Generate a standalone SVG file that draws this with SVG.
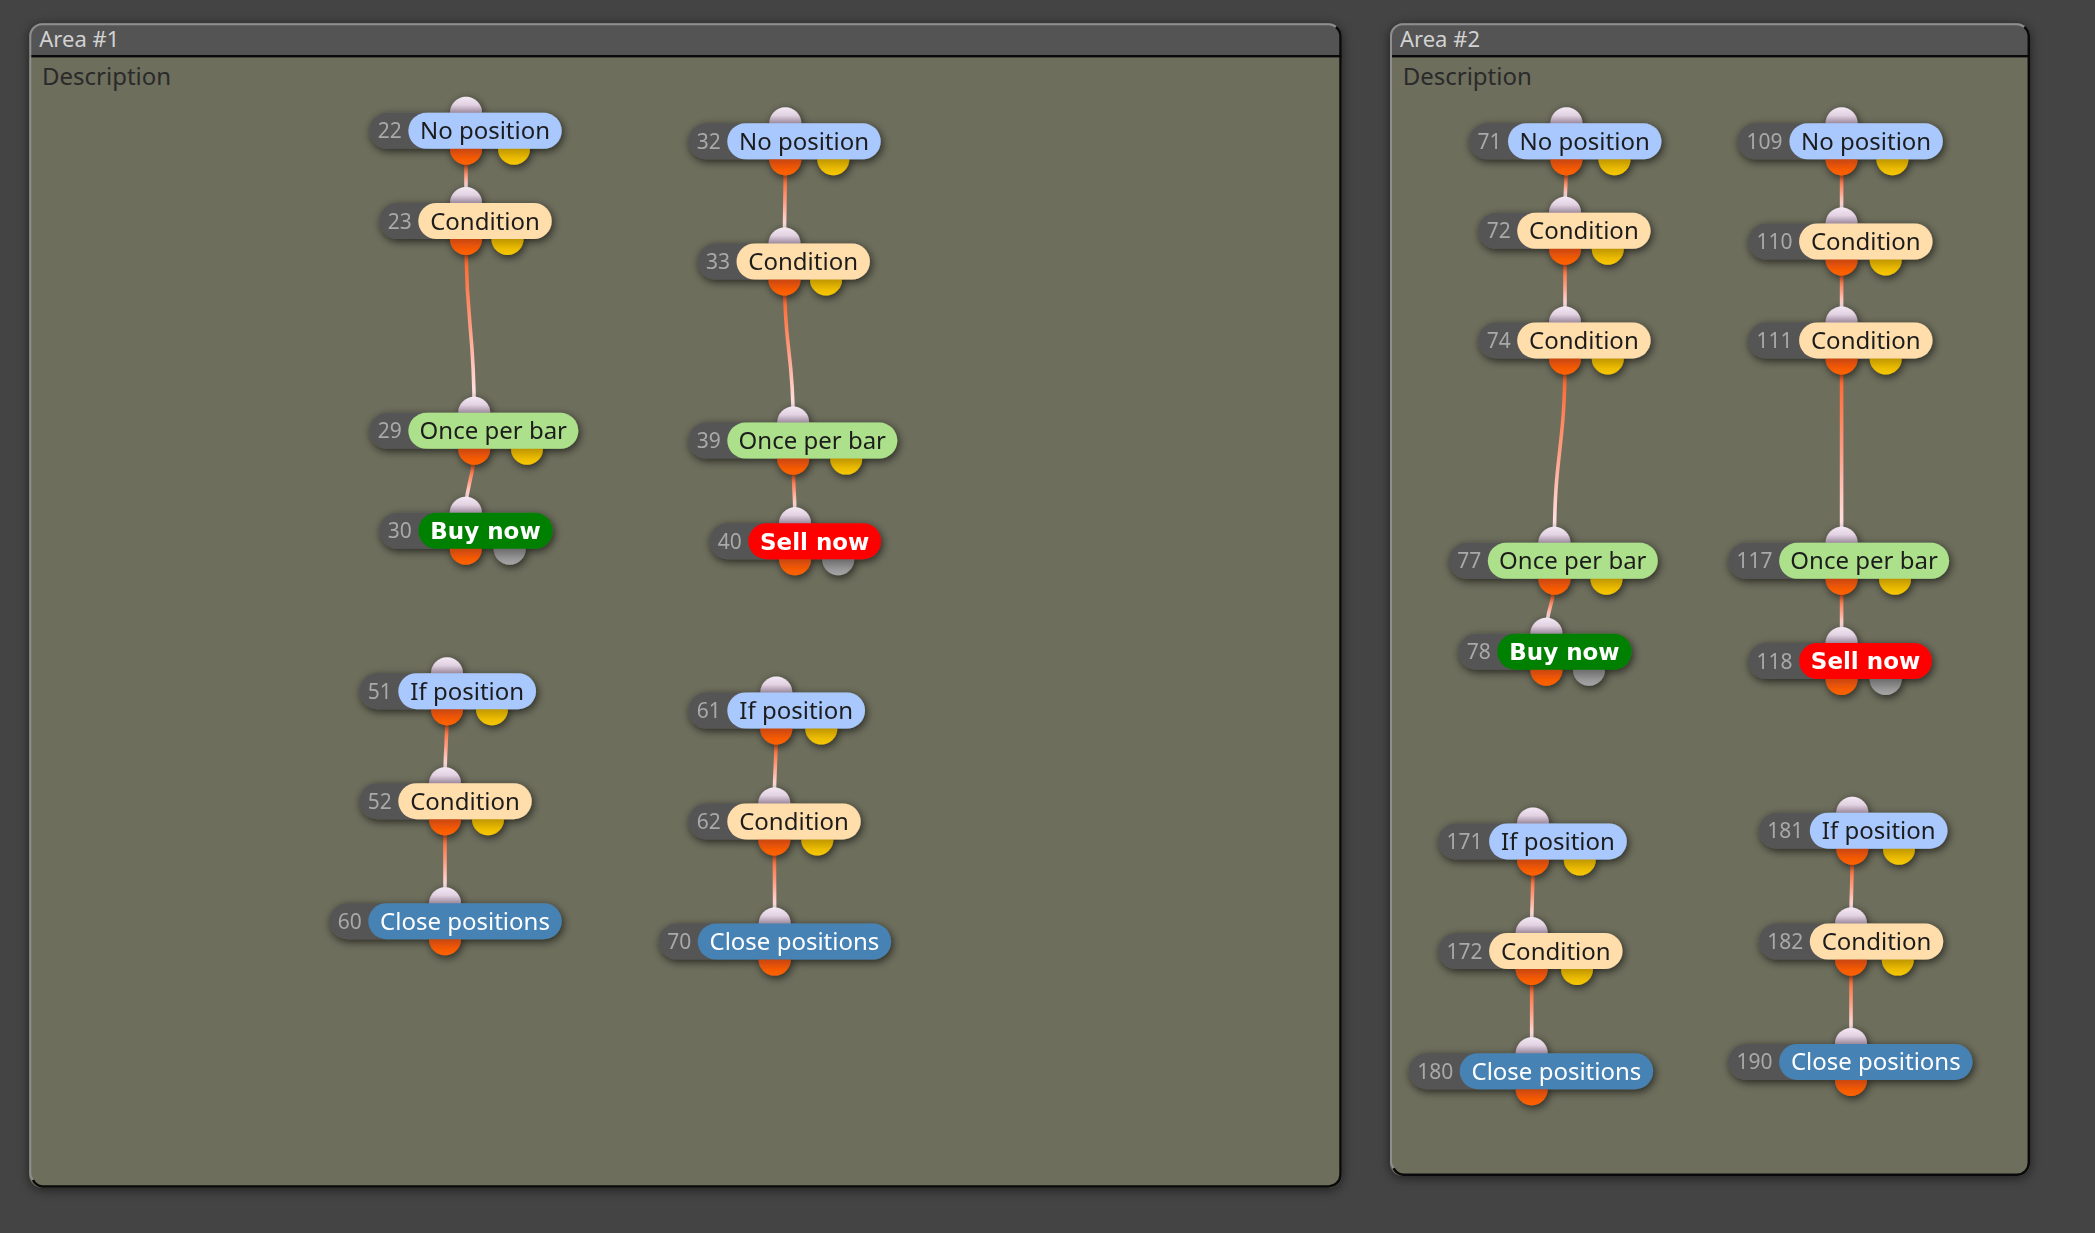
<svg xmlns="http://www.w3.org/2000/svg" width="2095" height="1233" viewBox="0 0 2095 1233">
<style>
.bg{fill:#444444}
.body{fill:#6d6e5c}
.tbar{fill:#545454}
.edgeL{fill:none;stroke:#8e8e8e;stroke-width:2}
.edgeD{fill:none;stroke:#0a0a0a;stroke-width:2.5}
.title{font-family:"Noto Sans",sans-serif;font-size:22px;fill:#d2d2d2}
.desc{font-family:"Noto Sans",sans-serif;font-size:24px;fill:#2a2a2a}
.num{fill:#555555}
.nt{font-family:"Noto Sans",sans-serif;font-size:21px;fill:#a9a9a9;text-anchor:middle}
.lt{font-family:"Noto Sans",sans-serif;font-size:24px;fill:#1d1d1d;text-anchor:middle}
.lw{fill:#ffffff}
.lbold{font-family:"DejaVu Sans",sans-serif;font-weight:bold;font-size:23px;fill:#ffffff;text-anchor:middle}
.cNo{fill:#a9c8fd}
.cCond{fill:#ffdeab}
.cOnce{fill:#ade08a}
.cBuy{fill:#008000}
.cSell{fill:#ff0000}
.cClose{fill:#4682b4}
.pin{fill:url(#gin)}
.pout{fill:url(#gout)}
.py{fill:url(#gy)}
.pg{fill:url(#gg)}
.conn path{fill:none;stroke-width:3.6;stroke-linecap:round}
</style>
<defs>
<filter id="sh" x="-30%" y="-60%" width="160%" height="220%">
<feDropShadow dx="1.5" dy="2.5" stdDeviation="4" flood-color="#000" flood-opacity="0.65"/>
</filter>
<filter id="ash" x="-5%" y="-5%" width="110%" height="110%">
<feDropShadow dx="0" dy="2" stdDeviation="6" flood-color="#000" flood-opacity="0.55"/>
</filter>
<linearGradient id="gin" x1="0" y1="0" x2="0" y2="1">
<stop offset="0" stop-color="#f4e8f4"/><stop offset="0.25" stop-color="#e2d2e2"/><stop offset="0.5" stop-color="#9c8a9c"/><stop offset="1" stop-color="#9c8a9c"/>
</linearGradient>
<linearGradient id="gout" x1="0" y1="0" x2="0" y2="1">
<stop offset="0" stop-color="#b83c10"/><stop offset="0.5" stop-color="#c8460e"/><stop offset="0.8" stop-color="#f45a04"/><stop offset="1" stop-color="#ff6200"/>
</linearGradient>
<linearGradient id="gy" x1="0" y1="0" x2="0" y2="1">
<stop offset="0" stop-color="#b08a00"/><stop offset="0.5" stop-color="#bf9600"/><stop offset="0.8" stop-color="#ebbb00"/><stop offset="1" stop-color="#f7c800"/>
</linearGradient>
<linearGradient id="gg" x1="0" y1="0" x2="0" y2="1">
<stop offset="0" stop-color="#606060"/><stop offset="0.5" stop-color="#6c6c6c"/><stop offset="0.8" stop-color="#959595"/><stop offset="1" stop-color="#a6a6a6"/>
</linearGradient>
<linearGradient id="cg"><stop offset="0" stop-color="#ff6428"/><stop offset="0.5" stop-color="#ff9c82"/><stop offset="1" stop-color="#ffe6ea"/></linearGradient>
<linearGradient id="k1" href="#cg" gradientUnits="userSpaceOnUse" x1="0" y1="164.8" x2="0" y2="187"/>
<linearGradient id="k2" href="#cg" gradientUnits="userSpaceOnUse" x1="0" y1="255" x2="0" y2="396.8"/>
<linearGradient id="k3" href="#cg" gradientUnits="userSpaceOnUse" x1="0" y1="464.8" x2="0" y2="496.8"/>
<linearGradient id="k4" href="#cg" gradientUnits="userSpaceOnUse" x1="0" y1="175.3" x2="0" y2="227.5"/>
<linearGradient id="k5" href="#cg" gradientUnits="userSpaceOnUse" x1="0" y1="295.5" x2="0" y2="406.6"/>
<linearGradient id="k6" href="#cg" gradientUnits="userSpaceOnUse" x1="0" y1="474.6" x2="0" y2="507.2"/>
<linearGradient id="k7" href="#cg" gradientUnits="userSpaceOnUse" x1="0" y1="725.2" x2="0" y2="767.2"/>
<linearGradient id="k8" href="#cg" gradientUnits="userSpaceOnUse" x1="0" y1="835.2" x2="0" y2="887.2"/>
<linearGradient id="k9" href="#cg" gradientUnits="userSpaceOnUse" x1="0" y1="744.5" x2="0" y2="787.4"/>
<linearGradient id="k10" href="#cg" gradientUnits="userSpaceOnUse" x1="0" y1="855.4" x2="0" y2="907.6"/>
<linearGradient id="k11" href="#cg" gradientUnits="userSpaceOnUse" x1="0" y1="175.3" x2="0" y2="196.8"/>
<linearGradient id="k12" href="#cg" gradientUnits="userSpaceOnUse" x1="0" y1="264.8" x2="0" y2="306.4"/>
<linearGradient id="k13" href="#cg" gradientUnits="userSpaceOnUse" x1="0" y1="374.4" x2="0" y2="526.8"/>
<linearGradient id="k14" href="#cg" gradientUnits="userSpaceOnUse" x1="0" y1="594.8" x2="0" y2="617.7"/>
<linearGradient id="k15" href="#cg" gradientUnits="userSpaceOnUse" x1="0" y1="175.3" x2="0" y2="207.5"/>
<linearGradient id="k16" href="#cg" gradientUnits="userSpaceOnUse" x1="0" y1="275.5" x2="0" y2="306.4"/>
<linearGradient id="k17" href="#cg" gradientUnits="userSpaceOnUse" x1="0" y1="374.4" x2="0" y2="526.8"/>
<linearGradient id="k18" href="#cg" gradientUnits="userSpaceOnUse" x1="0" y1="594.8" x2="0" y2="627"/>
<linearGradient id="k19" href="#cg" gradientUnits="userSpaceOnUse" x1="0" y1="875.4" x2="0" y2="917"/>
<linearGradient id="k20" href="#cg" gradientUnits="userSpaceOnUse" x1="0" y1="985" x2="0" y2="1037.2"/>
<linearGradient id="k21" href="#cg" gradientUnits="userSpaceOnUse" x1="0" y1="864.7" x2="0" y2="907.6"/>
<linearGradient id="k22" href="#cg" gradientUnits="userSpaceOnUse" x1="0" y1="975.6" x2="0" y2="1027.9"/>
</defs>

<rect class="bg" x="0" y="0" width="2095" height="1233"/>

<g id="area1">
<rect class="body" x="29.3" y="23.3" width="1312.4" height="1164.4" rx="13" filter="url(#ash)"/>
<path class="tbar" d="M29.3,55.5 V36.3 A13,13 0 0 1 42.3,23.3 H1328.7 A13,13 0 0 1 1341.7,36.3 V55.5 Z"/>
<rect x="29.3" y="55" width="1312.4" height="2.4" fill="#0a0a0a"/>
<path class="edgeL" d="M33,1180 A13,13 0 0 1 30.3,1174.7 V36.3 A12,12 0 0 1 42.3,24.3 H1328.7 A12,12 0 0 1 1336,27"/>
<path class="edgeD" d="M1336,27 A12,12 0 0 1 1340.5,36.3 V1174.7 A12,12 0 0 1 1328.7,1186.5 H42.3 A12,12 0 0 1 33,1180"/>
<text class="title" x="39.3" y="46.7">Area #1</text>
<text class="desc" x="42" y="85">Description</text>
</g>

<g id="area2">
<rect class="body" x="1390" y="23.3" width="640" height="1152.7" rx="13" filter="url(#ash)"/>
<path class="tbar" d="M1390,55.5 V36.3 A13,13 0 0 1 1403,23.3 H2017 A13,13 0 0 1 2030,36.3 V55.5 Z"/>
<rect x="1390" y="55" width="640" height="2.4" fill="#0a0a0a"/>
<path class="edgeL" d="M1393.7,1168.3 A13,13 0 0 1 1391,1163 V36.3 A12,12 0 0 1 1403,24.3 H2017 A12,12 0 0 1 2024.3,27"/>
<path class="edgeD" d="M2024.3,27 A12,12 0 0 1 2028.8,36.3 V1163 A12,12 0 0 1 2017,1174.8 H1403 A12,12 0 0 1 1393.7,1168.3"/>
<text class="title" x="1400" y="46.7">Area #2</text>
<text class="desc" x="1402.7" y="85">Description</text>
</g>

<g id="connectors" class="conn">
<path d="M466,148.8 C466,175.9 466,175.9 466,203" stroke="url(#k1)"/>
<path d="M466,239 C466,325.9 474.2,325.9 474.2,412.8" stroke="url(#k2)"/>
<path d="M474.2,448.8 C474.2,480.8 465.8,480.8 465.8,512.8" stroke="url(#k3)"/>
<path d="M785.3,159.3 C785.3,201.4 784.5,201.4 784.5,243.5" stroke="url(#k4)"/>
<path d="M784.5,279.5 C784.5,351 793.2,351 793.2,422.6" stroke="url(#k5)"/>
<path d="M793.2,458.6 C793.2,490.9 795,490.9 795,523.2" stroke="url(#k6)"/>
<path d="M447,709.2 C447,746.2 445,746.2 445,783.2" stroke="url(#k7)"/>
<path d="M445,819.2 C445,861.2 445,861.2 445,903.2" stroke="url(#k8)"/>
<path d="M776.3,728.5 C776.3,766 774.3,766 774.3,803.4" stroke="url(#k9)"/>
<path d="M774.3,839.4 C774.3,881.5 774.7,881.5 774.7,923.6" stroke="url(#k10)"/>
<path d="M1566.4,159.3 C1566.4,186 1565,186 1565,212.8" stroke="url(#k11)"/>
<path d="M1565,248.8 C1565,285.6 1565,285.6 1565,322.4" stroke="url(#k12)"/>
<path d="M1565,358.4 C1565,450.6 1554.4,450.6 1554.4,542.8" stroke="url(#k13)"/>
<path d="M1554.4,578.8 C1554.4,606.2 1546.4,606.2 1546.4,633.7" stroke="url(#k14)"/>
<path d="M1841.6,159.3 C1841.6,191.4 1841.6,191.4 1841.6,223.5" stroke="url(#k15)"/>
<path d="M1841.6,259.5 C1841.6,291 1841.6,291 1841.6,322.4" stroke="url(#k16)"/>
<path d="M1841.6,358.4 C1841.6,450.6 1841.6,450.6 1841.6,542.8" stroke="url(#k17)"/>
<path d="M1841.6,578.8 C1841.6,610.9 1841.6,610.9 1841.6,643" stroke="url(#k18)"/>
<path d="M1533,859.4 C1533,896.2 1531.7,896.2 1531.7,933" stroke="url(#k19)"/>
<path d="M1531.7,969 C1531.7,1011.1 1531.7,1011.1 1531.7,1053.2" stroke="url(#k20)"/>
<path d="M1852.3,848.7 C1852.3,886.2 1851,886.2 1851,923.6" stroke="url(#k21)"/>
<path d="M1851,959.6 C1851,1001.8 1851,1001.8 1851,1043.9" stroke="url(#k22)"/>
</g>

<g id="n22" filter="url(#sh)">
<circle class="pin" cx="466" cy="112.8" r="16"/><circle class="pout" cx="466" cy="148.8" r="16"/><circle class="py" cx="514" cy="148.8" r="16"/>
<rect class="num" x="369.3" y="112.8" width="75" height="36" rx="18"/><text class="nt" x="389.8" y="138.3">22</text>
<rect class="cNo" x="408.3" y="112.8" width="153.4" height="36" rx="18"/><text class="lt" x="485" y="139.3">No position</text>
</g>
<g id="n23" filter="url(#sh)">
<circle class="pin" cx="466" cy="203" r="16"/><circle class="pout" cx="466" cy="239" r="16"/><circle class="py" cx="507.5" cy="239" r="16"/>
<rect class="num" x="379.3" y="203" width="75" height="36" rx="18"/><text class="nt" x="399.8" y="228.5">23</text>
<rect class="cCond" x="418.3" y="203" width="133.4" height="36" rx="18"/><text class="lt" x="485" y="229.5">Condition</text>
</g>
<g id="n29" filter="url(#sh)">
<circle class="pin" cx="474.2" cy="412.8" r="16"/><circle class="pout" cx="474.2" cy="448.8" r="16"/><circle class="py" cx="527" cy="448.8" r="16"/>
<rect class="num" x="369.3" y="412.8" width="75" height="36" rx="18"/><text class="nt" x="389.8" y="438.3">29</text>
<rect class="cOnce" x="408.3" y="412.8" width="170" height="36" rx="18"/><text class="lt" x="493.3" y="439.3">Once per bar</text>
</g>
<g id="n30" filter="url(#sh)">
<circle class="pin" cx="465.8" cy="512.8" r="16"/><circle class="pout" cx="465.8" cy="548.8" r="16"/><circle class="pg" cx="509.7" cy="548.8" r="16"/>
<rect class="num" x="379.3" y="512.8" width="75" height="36" rx="18"/><text class="nt" x="399.8" y="538.3">30</text>
<rect class="cBuy" x="418.3" y="512.8" width="134.4" height="36" rx="18"/><text class="lbold" x="485.5" y="539.2">Buy now</text>
</g>
<g id="n32" filter="url(#sh)">
<circle class="pin" cx="785.3" cy="123.3" r="16"/><circle class="pout" cx="785.3" cy="159.3" r="16"/><circle class="py" cx="833.3" cy="159.3" r="16"/>
<rect class="num" x="688.3" y="123.3" width="75" height="36" rx="18"/><text class="nt" x="708.8" y="148.8">32</text>
<rect class="cNo" x="727.3" y="123.3" width="153.4" height="36" rx="18"/><text class="lt" x="804" y="149.8">No position</text>
</g>
<g id="n33" filter="url(#sh)">
<circle class="pin" cx="784.5" cy="243.5" r="16"/><circle class="pout" cx="784.5" cy="279.5" r="16"/><circle class="py" cx="826" cy="279.5" r="16"/>
<rect class="num" x="697.5" y="243.5" width="75" height="36" rx="18"/><text class="nt" x="718" y="269">33</text>
<rect class="cCond" x="736.5" y="243.5" width="133.4" height="36" rx="18"/><text class="lt" x="803.2" y="270">Condition</text>
</g>
<g id="n39" filter="url(#sh)">
<circle class="pin" cx="793.2" cy="422.6" r="16"/><circle class="pout" cx="793.2" cy="458.6" r="16"/><circle class="py" cx="846.2" cy="458.6" r="16"/>
<rect class="num" x="688.3" y="422.6" width="75" height="36" rx="18"/><text class="nt" x="708.8" y="448.1">39</text>
<rect class="cOnce" x="727.3" y="422.6" width="170" height="36" rx="18"/><text class="lt" x="812.3" y="449.1">Once per bar</text>
</g>
<g id="n40" filter="url(#sh)">
<circle class="pin" cx="795" cy="523.2" r="16"/><circle class="pout" cx="795" cy="559.2" r="16"/><circle class="pg" cx="838.2" cy="559.2" r="16"/>
<rect class="num" x="709.3" y="523.2" width="75" height="36" rx="18"/><text class="nt" x="729.8" y="548.7">40</text>
<rect class="cSell" x="748.3" y="523.2" width="132.7" height="36" rx="18"/><text class="lbold" x="814.7" y="549.6">Sell now</text>
</g>
<g id="n51" filter="url(#sh)">
<circle class="pin" cx="447" cy="673.2" r="16"/><circle class="pout" cx="447" cy="709.2" r="16"/><circle class="py" cx="492" cy="709.2" r="16"/>
<rect class="num" x="359.3" y="673.2" width="75" height="36" rx="18"/><text class="nt" x="379.8" y="698.7">51</text>
<rect class="cNo" x="398.3" y="673.2" width="137.7" height="36" rx="18"/><text class="lt" x="467.2" y="699.7">If position</text>
</g>
<g id="n52" filter="url(#sh)">
<circle class="pin" cx="445" cy="783.2" r="16"/><circle class="pout" cx="445" cy="819.2" r="16"/><circle class="py" cx="488" cy="819.2" r="16"/>
<rect class="num" x="359.3" y="783.2" width="75" height="36" rx="18"/><text class="nt" x="379.8" y="808.7">52</text>
<rect class="cCond" x="398.3" y="783.2" width="133.4" height="36" rx="18"/><text class="lt" x="465" y="809.7">Condition</text>
</g>
<g id="n60" filter="url(#sh)">
<circle class="pin" cx="445" cy="903.2" r="16"/><circle class="pout" cx="445" cy="939.2" r="16"/>
<rect class="num" x="329.3" y="903.2" width="75" height="36" rx="18"/><text class="nt" x="349.8" y="928.7">60</text>
<rect class="cClose" x="368.3" y="903.2" width="193.4" height="36" rx="18"/><text class="lt lw" x="465" y="929.7">Close positions</text>
</g>
<g id="n61" filter="url(#sh)">
<circle class="pin" cx="776.3" cy="692.5" r="16"/><circle class="pout" cx="776.3" cy="728.5" r="16"/><circle class="py" cx="821.3" cy="728.5" r="16"/>
<rect class="num" x="688.3" y="692.5" width="75" height="36" rx="18"/><text class="nt" x="708.8" y="718">61</text>
<rect class="cNo" x="727.3" y="692.5" width="137.7" height="36" rx="18"/><text class="lt" x="796.2" y="719">If position</text>
</g>
<g id="n62" filter="url(#sh)">
<circle class="pin" cx="774.3" cy="803.4" r="16"/><circle class="pout" cx="774.3" cy="839.4" r="16"/><circle class="py" cx="817.3" cy="839.4" r="16"/>
<rect class="num" x="688.3" y="803.4" width="75" height="36" rx="18"/><text class="nt" x="708.8" y="828.9">62</text>
<rect class="cCond" x="727.3" y="803.4" width="133.4" height="36" rx="18"/><text class="lt" x="794" y="829.9">Condition</text>
</g>
<g id="n70" filter="url(#sh)">
<circle class="pin" cx="774.7" cy="923.6" r="16"/><circle class="pout" cx="774.7" cy="959.6" r="16"/>
<rect class="num" x="658.7" y="923.6" width="75" height="36" rx="18"/><text class="nt" x="679.2" y="949.1">70</text>
<rect class="cClose" x="697.7" y="923.6" width="193.4" height="36" rx="18"/><text class="lt lw" x="794.4" y="950.1">Close positions</text>
</g>

<g id="n71" filter="url(#sh)">
<circle class="pin" cx="1566.4" cy="123.3" r="16"/><circle class="pout" cx="1566.4" cy="159.3" r="16"/><circle class="py" cx="1614.5" cy="159.3" r="16"/>
<rect class="num" x="1469" y="123.3" width="75" height="36" rx="18"/><text class="nt" x="1489.5" y="148.8">71</text>
<rect class="cNo" x="1508" y="123.3" width="153.4" height="36" rx="18"/><text class="lt" x="1584.7" y="149.8">No position</text>
</g>
<g id="n72" filter="url(#sh)">
<circle class="pin" cx="1565" cy="212.8" r="16"/><circle class="pout" cx="1565" cy="248.8" r="16"/><circle class="py" cx="1607.8" cy="248.8" r="16"/>
<rect class="num" x="1478.2" y="212.8" width="75" height="36" rx="18"/><text class="nt" x="1498.7" y="238.3">72</text>
<rect class="cCond" x="1517.2" y="212.8" width="133.4" height="36" rx="18"/><text class="lt" x="1583.9" y="239.3">Condition</text>
</g>
<g id="n74" filter="url(#sh)">
<circle class="pin" cx="1565" cy="322.4" r="16"/><circle class="pout" cx="1565" cy="358.4" r="16"/><circle class="py" cx="1607.8" cy="358.4" r="16"/>
<rect class="num" x="1478.2" y="322.4" width="75" height="36" rx="18"/><text class="nt" x="1498.7" y="347.9">74</text>
<rect class="cCond" x="1517.2" y="322.4" width="133.4" height="36" rx="18"/><text class="lt" x="1583.9" y="348.9">Condition</text>
</g>
<g id="n77" filter="url(#sh)">
<circle class="pin" cx="1554.4" cy="542.8" r="16"/><circle class="pout" cx="1554.4" cy="578.8" r="16"/><circle class="py" cx="1606.5" cy="578.8" r="16"/>
<rect class="num" x="1448.8" y="542.8" width="75" height="36" rx="18"/><text class="nt" x="1469.3" y="568.3">77</text>
<rect class="cOnce" x="1487.8" y="542.8" width="170" height="36" rx="18"/><text class="lt" x="1572.8" y="569.3">Once per bar</text>
</g>
<g id="n78" filter="url(#sh)">
<circle class="pin" cx="1546.4" cy="633.7" r="16"/><circle class="pout" cx="1546.4" cy="669.7" r="16"/><circle class="pg" cx="1589" cy="669.7" r="16"/>
<rect class="num" x="1458.2" y="633.7" width="75" height="36" rx="18"/><text class="nt" x="1478.7" y="659.2">78</text>
<rect class="cBuy" x="1497.2" y="633.7" width="134.4" height="36" rx="18"/><text class="lbold" x="1564.4" y="660.1">Buy now</text>
</g>
<g id="n109" filter="url(#sh)">
<circle class="pin" cx="1841.6" cy="123.3" r="16"/><circle class="pout" cx="1841.6" cy="159.3" r="16"/><circle class="py" cx="1892.4" cy="159.3" r="16"/>
<rect class="num" x="1737.4" y="123.3" width="88" height="36" rx="18"/><text class="nt" x="1764.4" y="148.8">109</text>
<rect class="cNo" x="1789.4" y="123.3" width="153.4" height="36" rx="18"/><text class="lt" x="1866.1" y="149.8">No position</text>
</g>
<g id="n110" filter="url(#sh)">
<circle class="pin" cx="1841.6" cy="223.5" r="16"/><circle class="pout" cx="1841.6" cy="259.5" r="16"/><circle class="py" cx="1885.7" cy="259.5" r="16"/>
<rect class="num" x="1748.1" y="223.5" width="88" height="36" rx="18"/><text class="nt" x="1774.6" y="249">110</text>
<rect class="cCond" x="1799.1" y="223.5" width="133.4" height="36" rx="18"/><text class="lt" x="1865.8" y="250">Condition</text>
</g>
<g id="n111" filter="url(#sh)">
<circle class="pin" cx="1841.6" cy="322.4" r="16"/><circle class="pout" cx="1841.6" cy="358.4" r="16"/><circle class="py" cx="1885.7" cy="358.4" r="16"/>
<rect class="num" x="1748.1" y="322.4" width="88" height="36" rx="18"/><text class="nt" x="1774.6" y="347.9">111</text>
<rect class="cCond" x="1799.1" y="322.4" width="133.4" height="36" rx="18"/><text class="lt" x="1865.8" y="348.9">Condition</text>
</g>
<g id="n117" filter="url(#sh)">
<circle class="pin" cx="1841.6" cy="542.8" r="16"/><circle class="pout" cx="1841.6" cy="578.8" r="16"/><circle class="py" cx="1895" cy="578.8" r="16"/>
<rect class="num" x="1728.1" y="542.8" width="88" height="36" rx="18"/><text class="nt" x="1754.6" y="568.3">117</text>
<rect class="cOnce" x="1779.1" y="542.8" width="170" height="36" rx="18"/><text class="lt" x="1864.1" y="569.3">Once per bar</text>
</g>
<g id="n118" filter="url(#sh)">
<circle class="pin" cx="1841.6" cy="643" r="16"/><circle class="pout" cx="1841.6" cy="679" r="16"/><circle class="pg" cx="1885.7" cy="679" r="16"/>
<rect class="num" x="1748.1" y="643" width="88" height="36" rx="18"/><text class="nt" x="1774.6" y="668.5">118</text>
<rect class="cSell" x="1799.1" y="643" width="132.7" height="36" rx="18"/><text class="lbold" x="1865.5" y="669.4">Sell now</text>
</g>
<g id="n171" filter="url(#sh)">
<circle class="pin" cx="1533" cy="823.4" r="16"/><circle class="pout" cx="1533" cy="859.4" r="16"/><circle class="py" cx="1579.8" cy="859.4" r="16"/>
<rect class="num" x="1438.1" y="823.4" width="88" height="36" rx="18"/><text class="nt" x="1464.6" y="848.9">171</text>
<rect class="cNo" x="1489.1" y="823.4" width="137.7" height="36" rx="18"/><text class="lt" x="1558" y="849.9">If position</text>
</g>
<g id="n172" filter="url(#sh)">
<circle class="pin" cx="1531.7" cy="933" r="16"/><circle class="pout" cx="1531.7" cy="969" r="16"/><circle class="py" cx="1577" cy="969" r="16"/>
<rect class="num" x="1438.1" y="933" width="88" height="36" rx="18"/><text class="nt" x="1464.6" y="958.5">172</text>
<rect class="cCond" x="1489.1" y="933" width="133.4" height="36" rx="18"/><text class="lt" x="1555.8" y="959.5">Condition</text>
</g>
<g id="n180" filter="url(#sh)">
<circle class="pin" cx="1531.7" cy="1053.2" r="16"/><circle class="pout" cx="1531.7" cy="1089.2" r="16"/>
<rect class="num" x="1408.7" y="1053.2" width="88" height="36" rx="18"/><text class="nt" x="1435.2" y="1078.7">180</text>
<rect class="cClose" x="1459.7" y="1053.2" width="193.4" height="36" rx="18"/><text class="lt lw" x="1556.4" y="1079.7">Close positions</text>
</g>
<g id="n181" filter="url(#sh)">
<circle class="pin" cx="1852.3" cy="812.7" r="16"/><circle class="pout" cx="1852.3" cy="848.7" r="16"/><circle class="py" cx="1899" cy="848.7" r="16"/>
<rect class="num" x="1758.8" y="812.7" width="88" height="36" rx="18"/><text class="nt" x="1785.3" y="838.2">181</text>
<rect class="cNo" x="1809.8" y="812.7" width="137.7" height="36" rx="18"/><text class="lt" x="1878.7" y="839.2">If position</text>
</g>
<g id="n182" filter="url(#sh)">
<circle class="pin" cx="1851" cy="923.6" r="16"/><circle class="pout" cx="1851" cy="959.6" r="16"/><circle class="py" cx="1897.8" cy="959.6" r="16"/>
<rect class="num" x="1758.8" y="923.6" width="88" height="36" rx="18"/><text class="nt" x="1785.3" y="949.1">182</text>
<rect class="cCond" x="1809.8" y="923.6" width="133.4" height="36" rx="18"/><text class="lt" x="1876.5" y="950.1">Condition</text>
</g>
<g id="n190" filter="url(#sh)">
<circle class="pin" cx="1851" cy="1043.9" r="16"/><circle class="pout" cx="1851" cy="1079.9" r="16"/>
<rect class="num" x="1728.1" y="1043.9" width="88" height="36" rx="18"/><text class="nt" x="1754.6" y="1069.4">190</text>
<rect class="cClose" x="1779.1" y="1043.9" width="193.4" height="36" rx="18"/><text class="lt lw" x="1875.8" y="1070.4">Close positions</text>
</g>
</svg>
